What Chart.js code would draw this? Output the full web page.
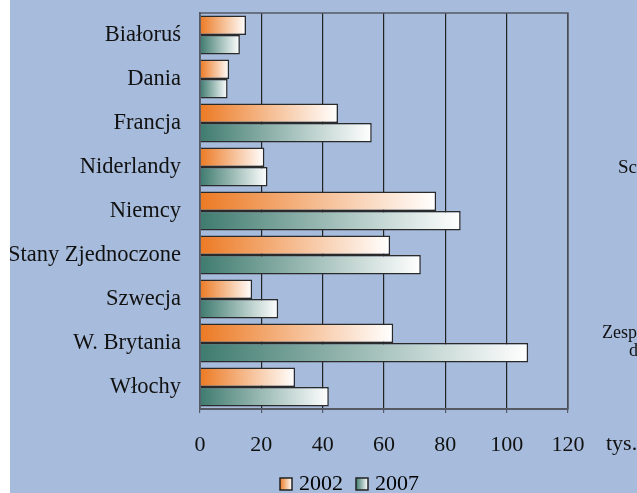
<!DOCTYPE html>
<html>
<head>
<meta charset="utf-8">
<script src="https://cdn.jsdelivr.net/npm/chart.js@4"></script>
<style>
  html, body { margin: 0; overflow: hidden; }
  body { background: #fff; width: 637px; height: 493px; position: relative; font-family: "Liberation Serif", serif; }
  #tlo { position: absolute; left: 10px; top: 0; width: 627px; height: 493px; background: #a7bcdc; overflow: hidden; }
  #wykres { position: absolute; left: 0; top: 0; }
  .opis { position: absolute; color: #111; white-space: nowrap; font-family: "Liberation Serif", serif; }
</style>
</head>
<body>
<div id="tlo">
  <canvas id="wykres" width="683" height="493"></canvas>
</div>
<!-- kawalki tekstu obcietego z prawej strony -->
<div class="opis" style="left:606px; top:430px; font-size:22px;">tys.</div>
<div class="opis" style="left:618px; top:156px; font-size:19px;">Sc</div>
<div class="opis" style="left:602px; top:322px; font-size:18px;">Zesp</div>
<div class="opis" style="left:629px; top:340px; font-size:18px;">d</div>
<script>
// dane
const kraje = ['Białoruś', 'Dania', 'Francja', 'Niderlandy', 'Niemcy', 'Stany Zjednoczone', 'Szwecja', 'W. Brytania', 'Włochy'];
const lata = ['2002', '2007'];
const wartosci2002 = [15, 9.5, 45, 21, 77, 62, 17, 63, 31];
const wartosci2007 = [13, 9, 56, 22, 85, 72, 25.5, 107, 42];
const osX = [0, 20, 40, 60, 80, 100, 120];

const kolory = ['#ec7a24', '#3f7b6f'];

//gradient na kazdym slupku: od koloru do bialego
function gradient(kolor) {
    return function(c) {
        const chart = c.chart;
        if (!chart.chartArea || c.raw === undefined) return kolor;
        const xs = chart.scales.x;
        const x0 = xs.getPixelForValue(0);
        const x1 = xs.getPixelForValue(c.raw);
        const g = chart.ctx.createLinearGradient(x0, 0, x1, 0);
        g.addColorStop(0, kolor);
        g.addColorStop(1, '#ffffff');
        return g;
    };
}

//male kwadraty do legendy
function kwadrat(kolor) {
    const cv = document.createElement('canvas');
    cv.width = 14; cv.height = 14;
    const k = cv.getContext('2d');
    const g = k.createLinearGradient(1, 0, 13, 0);
    g.addColorStop(0, kolor);
    g.addColorStop(1, '#ffffff');
    k.fillStyle = g;
    k.fillRect(1, 1, 12, 12);
    k.strokeStyle = '#222';
    k.lineWidth = 1.5;
    k.strokeRect(1, 1, 12, 12);
    return cv;
}

// ramka wokol obszaru wykresu
const ramka = {
    id: 'ramka',
    afterDraw(chart) {
        const a = chart.chartArea;
        const k = chart.ctx;
        k.save();
        k.strokeStyle = '#555a66';
        k.lineWidth = 1.5;
        k.strokeRect(a.left, a.top, a.right - a.left, a.bottom - a.top);
        k.restore();
    }
};

Chart.defaults.font.family = '"Liberation Serif", serif';
Chart.defaults.color = '#111';

var ctx = document.getElementById('wykres').getContext('2d');
var wykres = new Chart(ctx, {
    type: 'bar',
    data: {
        labels: kraje,
        datasets: [{
            label: lata[0],
            data: wartosci2002,
            backgroundColor: gradient(kolory[0]),
            borderColor: '#2a2a2a',
            borderWidth: 1.5
        }, {
            label: lata[1],
            data: wartosci2007,
            backgroundColor: gradient(kolory[1]),
            borderColor: '#2a2a2a',
            borderWidth: 1.5
        }]
    },
    options: {
        indexAxis: 'y',
        responsive: false,
        animation: false,
        categoryPercentage: 0.89,
        barPercentage: 1,
        layout: {
            autoPadding: false,
            padding: { top: 13, right: 0, left: 0, bottom: 0 }
        },
        scales: {
            x: {
                min: osX[0],
                max: osX[osX.length - 1],
                afterBuildTicks: function(scale) {
                    scale.ticks = osX.map(v => ({ value: v }));
                },
                afterFit: function(scale) {
                    scale.height = 47;
                    scale.paddingLeft = 0; scale.paddingRight = 0;
                },
                grid: {
                    color: '#222',
                    lineWidth: 1.2,
                    tickLength: 4,
                    tickColor: '#555a66'
                },
                border: { color: '#555a66', width: 2 },
                ticks: {
                    padding: 19,
                    font: { size: 22 },
                    color: '#111'
                }
            },
            y: {
                afterFit: function(scale) {
                    scale.width = 190;
                    scale.paddingTop = 0; scale.paddingBottom = 0;
                },
                grid: { display: false },
                border: { color: '#555a66', width: 1.5 },
                ticks: {
                    padding: 11,
                    font: { size: 22.5 },
                    color: '#111'
                }
            },
            // pusta os po prawej - tylko miejsce na obciety tekst
            prawa: {
                type: 'linear',
                axis: 'y',
                position: 'right',
                grid: { display: false },
                border: { display: false },
                ticks: { display: false },
                afterFit: function(scale) {
                    scale.width = 125;
                    scale.paddingTop = 0; scale.paddingBottom = 0;
                }
            }
        },
        plugins: {
            tooltip: { enabled: false },
            legend: {
                position: 'bottom',
                maxHeight: 37,
                labels: {
                    usePointStyle: true,
                    pointStyleWidth: 4,
                    font: { size: 22 },
                    padding: 17,
                    color: '#111',
                    generateLabels: function(chart) {
                        return chart.data.datasets.map((ds, i) => ({
                            text: ds.label,
                            pointStyle: kwadrat(kolory[i]),
                            fillStyle: kolory[i],
                            strokeStyle: '#222',
                            lineWidth: 0,
                            hidden: false,
                            datasetIndex: i
                        }));
                    }
                }
            }
        }
    },
    plugins: [ramka]
});
</script>
</body>
</html>
